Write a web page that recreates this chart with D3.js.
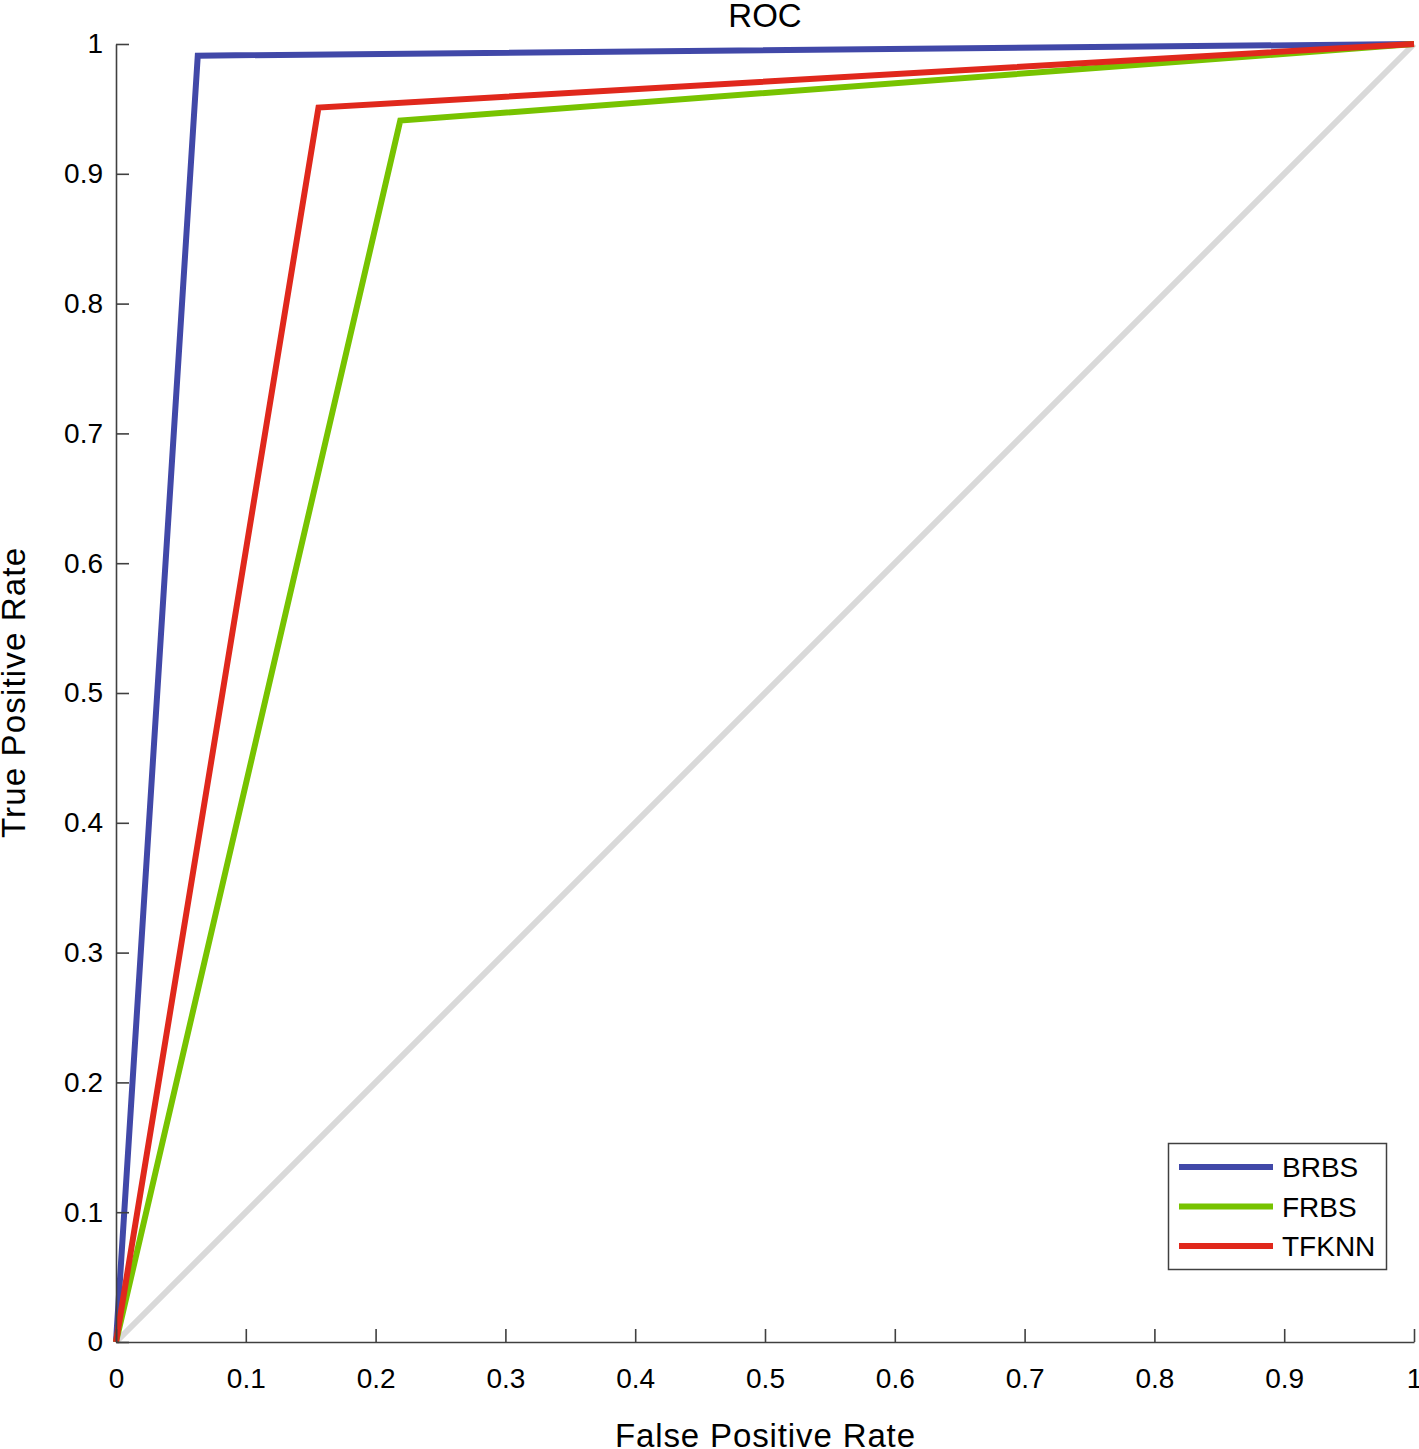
<!DOCTYPE html>
<html><head><meta charset="utf-8">
<script src="https://cdn.jsdelivr.net/npm/d3@7"></script>
<style>body{margin:0;background:#fff}svg{display:block;font-family:"Liberation Sans",Arial,sans-serif}</style>
</head><body>
<script>
const seriesNames = ["BRBS", "FRBS", "TFKNN"];
const seriesColors = ["#4148a8", "#77c300", "#e0281c"];
const brbsFPR = [0, 0.063, 1];
const brbsTPR = [0, 0.991, 1];
const frbsFPR = [0, 0.219, 1];
const frbsTPR = [0, 0.941, 1];
const tfknnFPR = [0, 0.156, 1];
const tfknnTPR = [0, 0.951, 1];
const diagFPR = [0, 1];
const diagTPR = [0, 1];
const tickValues = [0,0.1,0.2,0.3,0.4,0.5,0.6,0.7,0.8,0.9,1];

const W = 1419, H = 1449;
const m = {left:116, right:5, top:44, bottom:107};
const svg = d3.select("body").append("svg").attr("width", W).attr("height", H);
const x = d3.scaleLinear().domain([0,1]).range([m.left, W - m.right]);
const y = d3.scaleLinear().domain([0,1]).range([H - m.bottom, m.top]);
const fmt = d => d === 0 ? "0" : d === 1 ? "1" : d3.format(".1f")(d);

const line = d3.line().x(d => x(d[0])).y(d => y(d[1]));
const zip = (a,b) => a.map((v,i) => [v, b[i]]);

svg.append("path").datum(zip(diagFPR, diagTPR)).attr("d", line)
  .attr("fill","none").attr("stroke","#d9d9d9").attr("stroke-width",6);

const series = [zip(brbsFPR,brbsTPR), zip(frbsFPR,frbsTPR), zip(tfknnFPR,tfknnTPR)];
series.forEach((s,i) => {
  svg.append("path").datum(s).attr("d", line)
    .attr("fill","none").attr("stroke",seriesColors[i]).attr("stroke-width",6)
    .attr("stroke-linejoin","miter");
});

const axisColor = "#404040";
const xAxis = svg.append("g").attr("transform",`translate(0,${y(0)})`)
  .call(d3.axisBottom(x).tickValues(tickValues).tickFormat(fmt).tickSizeInner(-13).tickSizeOuter(0).tickPadding(22));
const yAxis = svg.append("g").attr("transform",`translate(${x(0)},0)`)
  .call(d3.axisLeft(y).tickValues(tickValues).tickFormat(fmt).tickSizeInner(-13).tickSizeOuter(0).tickPadding(13));
[xAxis, yAxis].forEach(g => {
  g.select(".domain").attr("stroke", axisColor).attr("stroke-width",1.6);
  g.selectAll(".tick line").attr("stroke", axisColor).attr("stroke-width",1.6);
  g.selectAll(".tick text").attr("fill","#000").style("font-size","28px").style("font-family",'"Liberation Sans",Arial,sans-serif');
});
xAxis.selectAll(".tick text").attr("dy", null).attr("y", 46);

svg.append("text").attr("x", x(0.5)).attr("y", 27).attr("text-anchor","middle")
  .style("font-size","33px").text("ROC");
svg.append("text").attr("x", x(0.5)).attr("y", 1447).attr("text-anchor","middle")
  .style("font-size","33px").attr("textLength",300).attr("lengthAdjust","spacing").text("False Positive Rate");
svg.append("text").attr("transform",`translate(25,${y(0.5)}) rotate(-90)`).attr("text-anchor","middle")
  .style("font-size","33px").attr("textLength",290).attr("lengthAdjust","spacing").text("True Positive Rate");

const lg = svg.append("g");
lg.append("rect").attr("x",1168.5).attr("y",1143.5).attr("width",218).attr("height",126)
  .attr("fill","#fff").attr("stroke",axisColor).attr("stroke-width",1.5);
seriesNames.forEach((n,i) => {
  const yy = 1167 + i*39.5;
  lg.append("line").attr("x1",1179).attr("x2",1273).attr("y1",yy).attr("y2",yy)
    .attr("stroke",seriesColors[i]).attr("stroke-width",6);
  lg.append("text").attr("x",1282).attr("y",yy+10).style("font-size","28px").text(n);
});
</script>
</body></html>
